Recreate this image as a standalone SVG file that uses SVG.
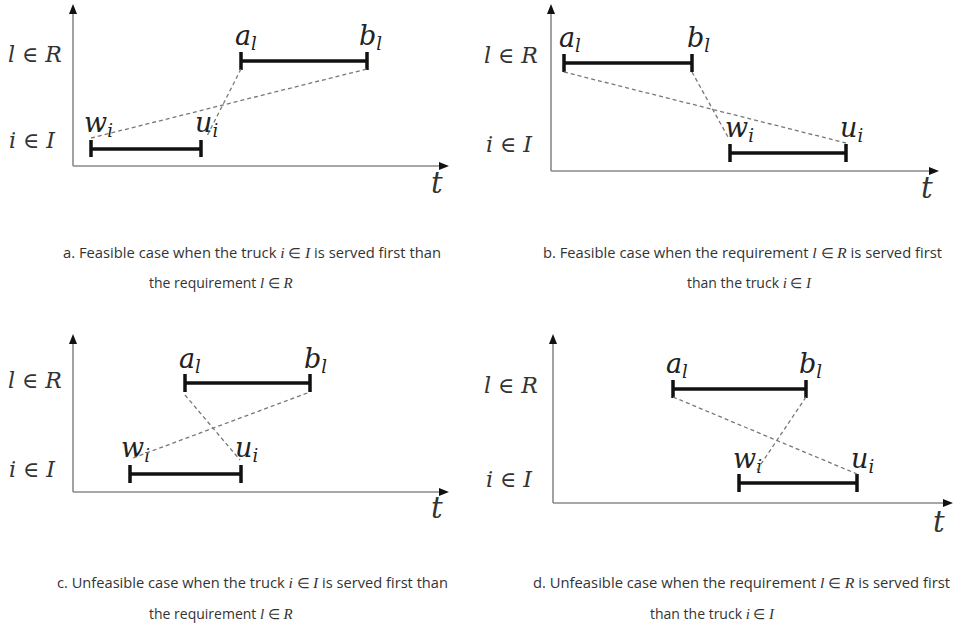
<svg xmlns="http://www.w3.org/2000/svg" width="955" height="628" viewBox="0 0 955 628">
<style>
.axis{stroke:#8a8a8a;stroke-width:1.6;fill:none}
.head{fill:#111}
.bar{stroke:#111;stroke-width:3.5;fill:none}
.tick{stroke:#111;stroke-width:3.5;fill:none}
.dash{stroke:#777;stroke-width:1.3;stroke-dasharray:4 3;fill:none}
.m{font-family:"DejaVu Serif","Liberation Serif",serif;font-style:italic;fill:#222}
.lab{font-size:27px}
.sub{font-size:18px}
.ax{font-family:"DejaVu Serif","Liberation Serif",serif;font-style:italic;font-size:22px;fill:#333}
.tt{font-family:"DejaVu Serif","Liberation Serif",serif;font-style:italic;font-size:29px;fill:#333}
.cap{font-family:"Open Sans","Noto Sans",sans-serif;font-size:14px;fill:#333}
.ci{font-family:"Liberation Serif","DejaVu Serif",serif;font-style:italic;font-size:15px}
</style>
<rect width="955" height="628" fill="#fff"/>

<!-- Panel a -->
<g id="panel-a">
  <g id="axes-a">
    <line class="axis" x1="73" y1="166" x2="73" y2="12"/>
    <polygon class="head" points="73,4 69,14 77,14"/>
    <line class="axis" x1="73" y1="166" x2="440" y2="166"/>
    <polygon class="head" points="449,166 439,162 439,170"/>
    <text class="ax" x="8" y="62">l ∈ R</text>
    <text class="ax" x="9" y="148">i ∈ I</text>
    <text class="tt" x="431" y="193">t</text>
  </g>
  <g id="a-interval-R">
    <line class="bar" x1="241" y1="61" x2="367" y2="61"/>
    <line class="tick" x1="241" y1="52" x2="241" y2="70"/>
    <line class="tick" x1="367" y1="52" x2="367" y2="70"/>
    <text class="m lab" x="235" y="45">a<tspan class="sub" dy="5">l</tspan></text>
    <text class="m lab" x="359" y="45">b<tspan class="sub" dy="5">l</tspan></text>
  </g>
  <g id="a-interval-I">
    <line class="bar" x1="91" y1="149" x2="201" y2="149"/>
    <line class="tick" x1="91" y1="140" x2="91" y2="157"/>
    <line class="tick" x1="201" y1="140" x2="201" y2="157"/>
    <text class="m lab" x="84" y="132">w<tspan class="sub" dy="5">i</tspan></text>
    <text class="m lab" x="195" y="132">u<tspan class="sub" dy="5">i</tspan></text>
  </g>
  <g id="a-connectors">
    <line class="dash" x1="91" y1="138" x2="367" y2="69"/>
    <line class="dash" x1="241" y1="69" x2="207" y2="136"/>
  </g>
  <text class="cap" x="63" y="258" textLength="378" lengthAdjust="spacingAndGlyphs">a. Feasible case when the truck <tspan class="ci">i</tspan> ∈ <tspan class="ci">I</tspan> is served first than</text>
  <text class="cap" x="149" y="288">the requirement <tspan class="ci">l</tspan> ∈ <tspan class="ci">R</tspan></text>
</g>

<!-- Panel b -->
<g id="panel-b">
  <g id="axes-b">
    <line class="axis" x1="551" y1="171" x2="551" y2="12"/>
    <polygon class="head" points="551,4 547,14 555,14"/>
    <line class="axis" x1="551" y1="171" x2="930" y2="171"/>
    <polygon class="head" points="939,171 929,167 929,175"/>
    <text class="ax" x="484" y="63">l ∈ R</text>
    <text class="ax" x="486" y="152">i ∈ I</text>
    <text class="tt" x="921" y="198">t</text>
  </g>
  <g id="b-interval-R">
    <line class="bar" x1="564" y1="63" x2="692" y2="63"/>
    <line class="tick" x1="564" y1="54" x2="564" y2="72"/>
    <line class="tick" x1="692" y1="54" x2="692" y2="72"/>
    <text class="m lab" x="559" y="47">a<tspan class="sub" dy="5">l</tspan></text>
    <text class="m lab" x="687" y="47">b<tspan class="sub" dy="5">l</tspan></text>
  </g>
  <g id="b-interval-I">
    <line class="bar" x1="730" y1="153" x2="846" y2="153"/>
    <line class="tick" x1="730" y1="144" x2="730" y2="162"/>
    <line class="tick" x1="846" y1="144" x2="846" y2="162"/>
    <text class="m lab" x="725" y="137">w<tspan class="sub" dy="5">i</tspan></text>
    <text class="m lab" x="840" y="137">u<tspan class="sub" dy="5">i</tspan></text>
  </g>
  <g id="b-connectors">
    <line class="dash" x1="564" y1="72" x2="846" y2="143"/>
    <line class="dash" x1="692" y1="72" x2="728" y2="137"/>
  </g>
  <text class="cap" x="543" y="258" textLength="399" lengthAdjust="spacingAndGlyphs">b. Feasible case when the requirement <tspan class="ci">l</tspan> ∈ <tspan class="ci">R</tspan> is served first</text>
  <text class="cap" x="687" y="288">than the truck <tspan class="ci">i</tspan> ∈ <tspan class="ci">I</tspan></text>
</g>

<!-- Panel c -->
<g id="panel-c">
  <g id="axes-c">
    <line class="axis" x1="73" y1="492" x2="73" y2="342"/>
    <polygon class="head" points="73,334 69,344 77,344"/>
    <line class="axis" x1="73" y1="492" x2="440" y2="492"/>
    <polygon class="head" points="449,492 439,488 439,496"/>
    <text class="ax" x="8" y="388">l ∈ R</text>
    <text class="ax" x="9" y="477">i ∈ I</text>
    <text class="tt" x="431" y="518">t</text>
  </g>
  <g id="c-interval-R">
    <line class="bar" x1="185" y1="383" x2="310" y2="383"/>
    <line class="tick" x1="185" y1="374" x2="185" y2="392"/>
    <line class="tick" x1="310" y1="374" x2="310" y2="392"/>
    <text class="m lab" x="179" y="368">a<tspan class="sub" dy="5">l</tspan></text>
    <text class="m lab" x="304" y="368">b<tspan class="sub" dy="5">l</tspan></text>
  </g>
  <g id="c-interval-I">
    <line class="bar" x1="130" y1="474" x2="241" y2="474"/>
    <line class="tick" x1="130" y1="465" x2="130" y2="483"/>
    <line class="tick" x1="241" y1="465" x2="241" y2="483"/>
    <text class="m lab" x="121" y="457">w<tspan class="sub" dy="5">i</tspan></text>
    <text class="m lab" x="235" y="457">u<tspan class="sub" dy="5">i</tspan></text>
  </g>
  <g id="c-connectors">
    <line class="dash" x1="185" y1="395" x2="240" y2="460"/>
    <line class="dash" x1="133" y1="458" x2="310" y2="392"/>
  </g>
  <text class="cap" x="57" y="588" textLength="391" lengthAdjust="spacingAndGlyphs">c. Unfeasible case when the truck <tspan class="ci">i</tspan> ∈ <tspan class="ci">I</tspan> is served first than</text>
  <text class="cap" x="149" y="619">the requirement <tspan class="ci">l</tspan> ∈ <tspan class="ci">R</tspan></text>
</g>

<!-- Panel d -->
<g id="panel-d">
  <g id="axes-d">
    <line class="axis" x1="553" y1="503" x2="553" y2="342"/>
    <polygon class="head" points="553,334 549,344 557,344"/>
    <line class="axis" x1="553" y1="503" x2="944" y2="503"/>
    <polygon class="head" points="953,503 943,499 943,507"/>
    <text class="ax" x="484" y="393">l ∈ R</text>
    <text class="ax" x="486" y="487">i ∈ I</text>
    <text class="tt" x="933" y="532">t</text>
  </g>
  <g id="d-interval-R">
    <line class="bar" x1="673" y1="389" x2="806" y2="389"/>
    <line class="tick" x1="673" y1="380" x2="673" y2="398"/>
    <line class="tick" x1="806" y1="380" x2="806" y2="398"/>
    <text class="m lab" x="666" y="373">a<tspan class="sub" dy="5">l</tspan></text>
    <text class="m lab" x="799" y="373">b<tspan class="sub" dy="5">l</tspan></text>
  </g>
  <g id="d-interval-I">
    <line class="bar" x1="739" y1="483" x2="857" y2="483"/>
    <line class="tick" x1="739" y1="474" x2="739" y2="492"/>
    <line class="tick" x1="857" y1="474" x2="857" y2="492"/>
    <text class="m lab" x="733" y="468">w<tspan class="sub" dy="5">i</tspan></text>
    <text class="m lab" x="851" y="468">u<tspan class="sub" dy="5">i</tspan></text>
  </g>
  <g id="d-connectors">
    <line class="dash" x1="673" y1="397" x2="857" y2="474"/>
    <line class="dash" x1="806" y1="397" x2="757" y2="470"/>
  </g>
  <text class="cap" x="533" y="588" textLength="417" lengthAdjust="spacingAndGlyphs">d. Unfeasible case when the requirement  <tspan class="ci">l</tspan> ∈ <tspan class="ci">R</tspan> is served first</text>
  <text class="cap" x="650" y="619">than the truck <tspan class="ci">i</tspan> ∈ <tspan class="ci">I</tspan></text>
</g>
</svg>
